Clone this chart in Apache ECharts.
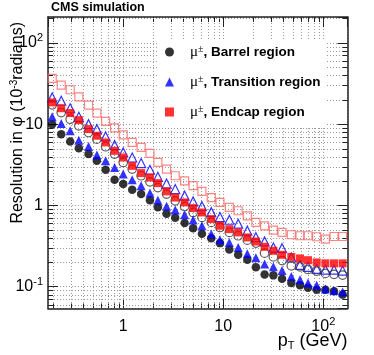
<!DOCTYPE html>
<html>
<head>
<meta charset="utf-8">
<script src="https://cdn.jsdelivr.net/npm/echarts@6/dist/echarts.min.js"></script>
<style>
html, body { margin: 0; padding: 0; background: #fff; }
#chart { width: 374px; height: 355px; }
</style>
</head>
<body>
<div id="chart"></div>
<script>
// pT bin centres (GeV)
var pT = [0.195, 0.24, 0.295, 0.36, 0.45, 0.545, 0.667, 0.82, 1.0, 1.23, 1.51, 1.85, 2.22, 2.71, 3.31, 4.11, 5.0, 6.12, 7.59, 9.27,
    11.5, 14.1, 17.4, 21.2, 25.9, 31.7, 38.7, 47.9, 58.5, 70.3, 85.9, 105, 128, 156];

// resolution in phi (10^-3 rad)
var barrel = [10.0, 7.53, 6.12, 5.07, 4.28, 3.54, 2.75, 2.07, 1.83, 1.56, 1.38, 1.16, 0.953, 0.79, 0.706, 0.607, 0.526, 0.449, 0.396, 0.344,
    0.288, 0.247, 0.215, 0.174, 0.141, 0.138, 0.125, 0.111, 0.104, 0.097, 0.092, 0.092, 0.088, 0.080];
var transition = [12.3, 10.2, 8.28, 6.36, 5.32, 4.16, 3.54, 2.93, 2.43, 2.07, 1.75, 1.42, 1.16, 0.98, 0.877, 0.768, 0.66, 0.562, 0.444, 0.378,
    0.351, 0.304, 0.254, 0.227, 0.191, 0.176, 0.158, 0.134, 0.122, 0.111, 0.104, 0.094, 0.090, 0.086];
var endcap = [18.5, 15.7, 13.7, 11.2, 8.7, 7.2, 5.96, 4.7, 3.89, 3.07, 2.5, 2.21, 1.88, 1.49, 1.25, 1.09, 0.927, 0.82, 0.68, 0.562,
    0.511, 0.466, 0.404, 0.36, 0.31, 0.277, 0.247, 0.233, 0.223, 0.212, 0.199, 0.194, 0.194, 0.194];
var barrelOpen = [17.3, 13.9, 11.5, 9.55, 7.9, 6.54, 5.27, 4.28, 3.38, 2.8, 2.32, 1.95, 1.66, 1.38, 1.14, 0.97, 0.82, 0.712, 0.618, 0.536,
    0.466, 0.424, 0.374, 0.344, 0.259, 0.233, 0.21, 0.181, 0.176, 0.163, 0.156, 0.146, 0.142, 0.139];
var transitionOpen = [21.3, 19.4, 15.7, 12.3, 10.0, 8.69, 7.06, 5.52, 4.49, 3.89, 3.32, 2.75, 2.25, 1.86, 1.59, 1.32, 1.12, 0.98, 0.828, 0.719,
    0.667, 0.596, 0.489, 0.407, 0.361, 0.304, 0.298, 0.229, 0.186, 0.176, 0.166, 0.162, 0.162, 0.158];
var endcapOpen = [36.5, 30.2, 26.5, 21.7, 17.1, 13.7, 10.8, 9.0, 7.4, 5.96, 5.17, 4.36, 3.38, 2.8, 2.32, 2.01, 1.75, 1.49, 1.25, 1.09,
    0.945, 0.86, 0.746, 0.618, 0.562, 0.497, 0.466, 0.436, 0.424, 0.424, 0.412, 0.385, 0.415, 0.415];

var xRange = [0.177, 174.6];
var yRange = [0.054, 208];
var legendNames = ['Barrel', 'Transition', 'Endcap'];

var font = 'Liberation Sans';
var gridColor = '#9a9a9a';
var frameColor = '#222';

function pairs(ys) {
    return ys.map(function (y, i) { return [pT[i], y]; });
}

// minor grid lines / ticks at 2..9 x 10^n
var minorData = [];
for (var d = -1; d <= 2; d++) {
    for (var k = 2; k <= 9; k++) {
        var v = k * Math.pow(10, d);
        if (v > xRange[0] && v < xRange[1]) minorData.push([v, 1, 0]);
    }
}
for (var d2 = -2; d2 <= 2; d2++) {
    for (var k2 = 2; k2 <= 9; k2++) {
        var w = k2 * Math.pow(10, d2);
        if (w > yRange[0] && w < yRange[1]) minorData.push([1, w, 1]);
    }
}

function renderMinor(params, api) {
    var cs = params.coordSys;
    var p = api.coord([api.value(0), api.value(1)]);
    var dash = {stroke: gridColor, lineWidth: 1, lineDash: [1, 2]};
    var tick = {stroke: frameColor, lineWidth: 1};
    if (api.value(2) === 0) {
        var x = Math.round(p[0]) + 0.5;
        var b = cs.y + cs.height;
        return {type: 'group', children: [
            {type: 'line', shape: {x1: x, y1: cs.y, x2: x, y2: b}, style: dash},
            {type: 'line', shape: {x1: x, y1: b, x2: x, y2: b - 5}, style: tick},
            {type: 'line', shape: {x1: x, y1: cs.y, x2: x, y2: cs.y + 5}, style: tick}
        ]};
    }
    var y = Math.round(p[1]) + 0.5;
    var r = cs.x + cs.width;
    return {type: 'group', children: [
        {type: 'line', shape: {x1: cs.x, y1: y, x2: r, y2: y}, style: dash},
        {type: 'line', shape: {x1: cs.x, y1: y, x2: cs.x + 5, y2: y}, style: tick},
        {type: 'line', shape: {x1: r, y1: y, x2: r - 5, y2: y}, style: tick}
    ]};
}

function powLabel(v) {
    var e = Math.round(Math.log10(v));
    if (Math.abs(Math.log10(v) - e) > 1e-6) return '';
    if (e === 0) return '1';
    if (e === 1) return '10';
    return '10{sup|' + e + '}';
}

var supRich = {sup: {fontFamily: font, fontSize: 11, verticalAlign: 'top', lineHeight: 10, color: '#000'}};

function logAxis(range, pos, main) {
    return {
        type: 'log',
        position: pos,
        min: range[0],
        max: range[1],
        axisLine: {show: true, onZero: false, lineStyle: {color: frameColor, width: 1.5}},
        axisTick: {show: true, inside: true, length: 10, lineStyle: {color: frameColor}},
        axisLabel: {show: main, formatter: powLabel, fontFamily: font, fontSize: 16, color: '#000', rich: supRich,
            showMinLabel: false, showMaxLabel: false},
        splitLine: {show: main, lineStyle: {color: gridColor, type: [1, 2]}},
        minorTick: {show: false},
        nameMoveOverlap: false
    };
}

var xMain = logAxis(xRange, 'bottom', true);
xMain.axisLabel.margin = 8;
xMain.axisLabel.lineHeight = 20;
xMain.name = 'p{sub|T} (GeV)';
xMain.nameLocation = 'end';
xMain.nameGap = 0;
xMain.nameTextStyle = {fontFamily: font, fontSize: 18, color: '#000', align: 'right', verticalAlign: 'top',
    padding: [23, 0, 0, 0], lineHeight: 20,
    rich: {sub: {fontFamily: font, fontSize: 11, verticalAlign: 'bottom', lineHeight: 11}}};

var yMain = logAxis(yRange, 'left', true);
yMain.axisLabel.margin = 5;
yMain.axisLabel.lineHeight = 20;
yMain.name = 'Resolution in \u03c6 (10{sup|-3}radians)';
yMain.nameLocation = 'end';
yMain.nameRotate = 90;
yMain.nameGap = -5;
yMain.nameTextStyle = {fontFamily: font, fontSize: 16, color: '#000', align: 'right', verticalAlign: 'bottom',
    lineHeight: 18, padding: [0, 0, 21, 0],
    rich: {sup: {fontFamily: font, fontSize: 10, verticalAlign: 'top', lineHeight: 10}}};

function openSeries(name, symbol, size, color, ys) {
    return {
        name: name, type: 'scatter', symbol: symbol, symbolSize: size, z: 3,
        itemStyle: {color: 'rgba(0,0,0,0)', borderColor: color, borderWidth: 1.2},
        data: pairs(ys)
    };
}

function fullSeries(name, symbol, size, color, ys) {
    return {
        name: name, type: 'scatter', symbol: symbol, symbolSize: size, z: 4,
        itemStyle: {color: color},
        data: pairs(ys)
    };
}

var legendText = {
    Barrel: ', Barrel region',
    Transition: ', Transition region',
    Endcap: ', Endcap region'
};

var myChart = echarts.init(document.getElementById('chart'), null, {renderer: 'canvas'});
myChart.setOption({
    animation: false,
    backgroundColor: '#fff',
    title: {
        text: 'CMS simulation',
        left: 51,
        top: 0,
        padding: 0,
        textStyle: {fontFamily: font, fontSize: 12.5, fontWeight: 'bold', color: '#000', lineHeight: 15}
    },
    grid: {left: 48, right: 26.5, top: 17, bottom: 46.5, containLabel: false, outerBoundsMode: 'none'},
    legend: {
        data: legendNames,
        orient: 'vertical',
        left: 158,
        top: 41,
        padding: [3, 5, 6, 7],
        itemWidth: 9,
        itemHeight: 9,
        itemGap: 14,
        symbolKeepAspect: true,
        backgroundColor: '#fff',
        selectedMode: false,
        formatter: function (name) {
            return '{mu|\u03bc}{pm|\u00b1}{b|' + legendText[name] + '}';
        },
        textStyle: {
            fontFamily: font, fontSize: 13.5, fontWeight: 'bold', color: '#000', lineHeight: 16,
            rich: {
                mu: {fontFamily: 'Liberation Serif', fontSize: 15, fontWeight: 'normal', lineHeight: 16, padding: [0, 0, 0, 11]},
                pm: {fontFamily: 'Liberation Serif', fontSize: 10, fontWeight: 'normal', verticalAlign: 'top', lineHeight: 10},
                b: {fontFamily: font, fontSize: 13.5, fontWeight: 'bold', lineHeight: 16}
            }
        }
    },
    xAxis: [xMain, logAxis(xRange, 'top', false)],
    yAxis: [yMain, logAxis(yRange, 'right', false)],
    series: [
        {
            type: 'custom', name: 'minor', silent: true, z: 1,
            renderItem: renderMinor,
            encode: {x: 0, y: 1},
            data: minorData
        },
        openSeries('Endcap open', 'rect', 8, '#ff6666', endcapOpen),
        openSeries('Transition open', 'triangle', 9, '#0000ff', transitionOpen),
        openSeries('Barrel open', 'circle', 8.5, '#333333', barrelOpen),
        fullSeries('Barrel', 'circle', 8.5, '#000000', barrel),
        fullSeries('Transition', 'triangle', 9, '#0000ff', transition),
        fullSeries('Endcap', 'rect', 8, '#ff0000', endcap)
    ]
});

window.onresize = function () {
    myChart.resize();
};
</script>
</body>
</html>
